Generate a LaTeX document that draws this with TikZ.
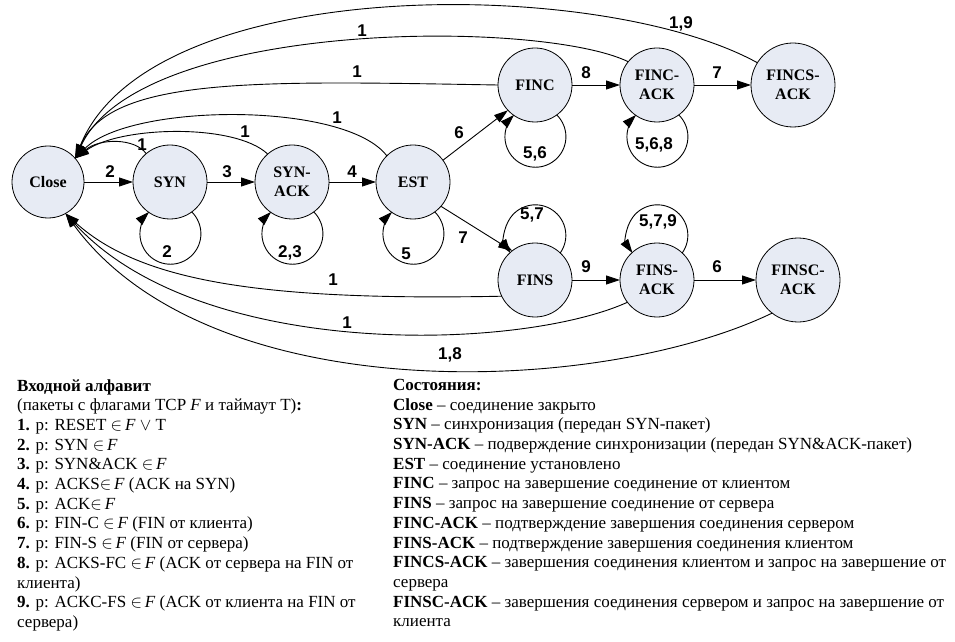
\documentclass[tikz,border=0pt]{standalone}
\usepackage{fontspec}
\setmainfont{Liberation Serif}
\newfontfamily\lblfont{Liberation Sans}
\usetikzlibrary{arrows.meta}
\definecolor{nodefill}{RGB}{231,235,244}
\begin{document}
\begin{tikzpicture}[x=1pt,y=1pt,
  st/.style={circle,draw,fill=nodefill,line width=0.8pt,minimum size=74pt,inner sep=0pt,outer sep=0pt,
    font=\fontsize{16}{19}\selectfont\bfseries,align=center},
  bigst/.style={st,minimum size=84pt},
  arr/.style={line width=0.9pt,-{Triangle[length=14pt,width=9pt]}},
  lbl/.style={font=\lblfont\fontsize{17}{19}\selectfont\bfseries,inner sep=0pt},
  txt/.style={anchor=north west,inner sep=0pt,align=left,font=\fontsize{17}{19.7}\selectfont}
  ]
\useasboundingbox (0,0) rectangle (955,641);

% states
\node[st,minimum size=72pt] (Close) at (48,459) {Close};
\node[st] (SYN) at (170,459) {SYN};
\node[st] (SYNACK) at (292,459) {SYN-\\ACK};
\node[st] (EST) at (413,459) {EST};
\node[st] (FINC) at (535,556) {FINC};
\node[st] (FINCACK) at (657,556) {FINC-\\ACK};
\node[bigst] (FINCSACK) at (793,556) {FINCS-\\ACK};
\node[st] (FINS) at (535,361) {FINS};
\node[st] (FINSACK) at (657,361) {FINS-\\ACK};
\node[bigst] (FINSCACK) at (798,361) {FINSC-\\ACK};

% forward edges
\draw[arr] (Close) -- (SYN);
\draw[arr] (SYN) -- (SYNACK);
\draw[arr] (SYNACK) -- (EST);
\draw[arr] (EST.36) -- (FINC.223);
\draw[arr] (EST.-41) -- (FINS.128);
\draw[arr] (FINC) -- (FINCACK);
\draw[arr] (FINCACK) -- (FINCSACK);
\draw[arr] (FINS) -- (FINSACK);
\draw[arr] (FINSACK) -- (FINSCACK);

% self loops below
\draw[arr] (SYN.-54.8) arc[start angle=45.6,end angle=-225.6,radius=30.5];
\draw[arr] (SYNACK.-54.8) arc[start angle=45.6,end angle=-225.6,radius=30.5];
\draw[arr] (EST.-54.8) arc[start angle=45.6,end angle=-225.6,radius=30.5];
\draw[arr] (FINC.-54.8) arc[start angle=45.6,end angle=-225.6,radius=30.5];
\draw[arr] (FINCACK.-54.8) arc[start angle=45.6,end angle=-225.6,radius=30.5];
% self loops above
\draw[arr] (FINS.47.7) arc[start angle=-35.3,end angle=215.3,radius=30.5];
\draw[arr] (FINSACK.47.7) arc[start angle=-35.3,end angle=215.3,radius=30.5];

% returns to Close (upper)
\draw[arr] (SYN.130) .. controls (135,503) and (100,503) .. (Close.41);
\draw[arr] (SYNACK.131) .. controls (235,518) and (120,515) .. (Close.41);
\draw[arr] (EST.135) .. controls (345,540) and (130,538) .. (Close.41);
\draw[arr] (FINC.180) .. controls (260,560) and (110,565) .. (Close.41);
\draw[arr] (FINCACK.141) .. controls (540,622) and (140,622) .. (Close.41);
\draw[arr] (FINCSACK.148) .. controls (600,665) and (150,668) .. (Close.41);
% returns to Close (lower)
\draw[arr] (FINS.206) .. controls (260,340) and (140,360) .. (Close.-61);
\draw[arr] (FINSACK.217) .. controls (520,290) and (200,280) .. (Close.-61);
\draw[arr] (FINSCACK.232) .. controls (600,245) and (210,230) .. (Close.-61);

% edge labels
\node[lbl] (e2) at (110,469) {2};
\node[lbl] (e3) at (227,469) {3};
\node[lbl] (e4) at (352,469) {4};
\node[lbl] (e6a) at (459,508) {6};
\node[lbl] (e7a) at (463,403) {7};
\node[lbl] (e8) at (586,568) {8};
\node[lbl] (e7b) at (717,568) {7};
\node[lbl] (e9) at (586,374) {9};
\node[lbl] (e6b) at (717,374) {6};
\node[lbl] (r1) at (142,496) {1};
\node[lbl] (r2) at (245,509) {1};
\node[lbl] (r3) at (337,523) {1};
\node[lbl] (r4) at (357,569) {1};
\node[lbl] (r5) at (362,610) {1};
\node[lbl] (r6) at (681,617) {1,9};
\node[lbl] (r7) at (333,361) {1};
\node[lbl] (r8) at (347,318) {1};
\node[lbl] (r9) at (450,286) {1,8};
% loop labels
\node[lbl] (s1) at (167,389) {2};
\node[lbl] (s2) at (290,388) {2,3};
\node[lbl] (s3) at (406,387) {5};
\node[lbl] (s4) at (535,487) {5,6};
\node[lbl] (s5) at (654,496) {5,6,8};
\node[lbl] (s6) at (532,426) {5,7};
\node[lbl] (s7) at (658,419) {5,7,9};

% legend texts
\node[txt] (alphabet) at (17,262) {\textbf{Входной алфавит}\\
(пакеты с флагами TCP \textit{F} и таймаут T)\textbf{:}\\
\textbf{1.} p: RESET $\in$\,\textit{F} $\vee$ T\\
\textbf{2.} p: SYN $\in$\,\textit{F}\\
\textbf{3.} p: SYN\&ACK $\in$\,\textit{F}\\
\textbf{4.} p: ACKS$\in$\,\textit{F} (ACK на SYN)\\
\textbf{5.} p: ACK$\in$\,\textit{F}\\
\textbf{6.} p: FIN-C $\in$\,\textit{F} (FIN от клиента)\\
\textbf{7.} p: FIN-S $\in$\,\textit{F} (FIN от сервера)\\
\textbf{8.} p: ACKS-FC $\in$\,\textit{F} (ACK от сервера на FIN от\\
клиента)\\
\textbf{9.} p: ACKC-FS $\in$\,\textit{F} (ACK от клиента на FIN от\\
сервера)};

\node[txt] (states) at (393,262) {\textbf{Состояния:}\\
\textbf{Close} – соединение закрыто\\
\textbf{SYN} – синхронизация (передан SYN-пакет)\\
\textbf{SYN-ACK} – подверждение синхронизации (передан SYN\&ACK-пакет)\\
\textbf{EST} – соединение установлено\\
\textbf{FINC} – запрос на завершение соединение от клиентом\\
\textbf{FINS} – запрос на завершение соединение от сервера\\
\textbf{FINC-ACK} – подтверждение завершения соединения сервером\\
\textbf{FINS-ACK} – подтверждение завершения соединения клиентом\\
\textbf{FINCS-ACK} – завершения соединения клиентом и запрос на завершение от\\
сервера\\
\textbf{FINSC-ACK} – завершения соединения сервером и запрос на завершение от\\
клиента};
\end{tikzpicture}
\end{document}
